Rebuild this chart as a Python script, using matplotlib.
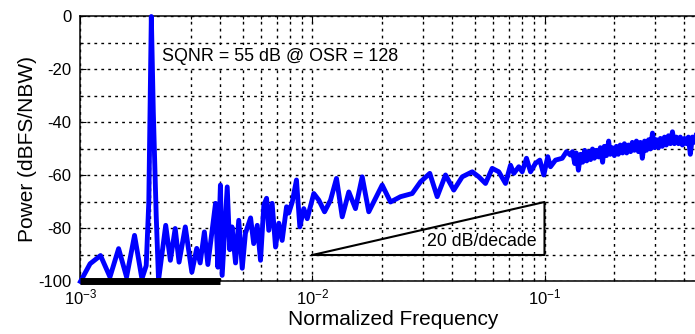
import numpy as np
import matplotlib
matplotlib.use('Agg')
import matplotlib.pyplot as plt
from matplotlib.ticker import MultipleLocator, LogLocator, NullFormatter

plt.rcParams['font.family'] = ['Liberation Sans', 'DejaVu Sans']
plt.rcParams['mathtext.fontset'] = 'custom'
plt.rcParams['mathtext.rm'] = 'Liberation Sans'
plt.rcParams['mathtext.it'] = 'Liberation Sans:italic'
plt.rcParams['axes.unicode_minus'] = False

# spectrum (normalized frequency, dBFS/NBW)
freq = [1.00e-3, 1.10e-3, 1.22e-3, 1.34e-3, 1.46e-3, 1.58e-3, 1.71e-3, 1.84e-3,
        1.92e-3, 1.97e-3, 2.02e-3, 2.06e-3, 2.12e-3, 2.17e-3, 2.33e-3, 2.44e-3,
        2.56e-3, 2.66e-3, 2.83e-3, 3.02e-3, 3.17e-3, 3.28e-3, 3.42e-3, 3.54e-3,
        3.82e-3, 3.91e-3, 4.01e-3, 4.08e-3, 4.29e-3, 4.40e-3, 4.50e-3, 4.66e-3,
        4.81e-3, 4.98e-3, 5.14e-3, 5.41e-3, 5.58e-3, 5.78e-3, 5.97e-3, 6.17e-3,
        6.34e-3, 6.48e-3, 6.70e-3, 6.93e-3, 7.16e-3, 7.40e-3, 7.73e-3, 7.90e-3,
        8.18e-3, 8.53e-3, 8.82e-3, 9.17e-3, 9.49e-3,
        1.013e-2, 1.065e-2, 1.127e-2, 1.196e-2, 1.269e-2, 1.343e-2, 1.434e-2,
        1.532e-2, 1.638e-2, 1.748e-2, 1.997e-2, 2.169e-2, 2.395e-2, 2.690e-2,
        2.921e-2, 3.203e-2, 3.447e-2, 3.744e-2, 4.065e-2, 4.419e-2, 4.880e-2,
        5.210e-2, 5.568e-2, 5.951e-2, 6.353e-2, 6.791e-2, 7.136e-2, 7.374e-2,
        7.748e-2, 8.014e-2, 8.363e-2, 8.703e-2, 9.146e-2, 9.544e-2, 9.931e-2,
        0.1033, 0.1061, 0.1115, 0.1192, 0.1244, 0.1294,
        0.132, 0.135, 0.137, 0.140, 0.143, 0.146, 0.149, 0.152, 0.155, 0.158,
        0.161, 0.164, 0.167, 0.171, 0.174, 0.178, 0.181, 0.185, 0.189, 0.192,
        0.196, 0.200, 0.204, 0.208, 0.212, 0.217, 0.221, 0.226, 0.230, 0.235,
        0.239, 0.244, 0.249, 0.254, 0.259, 0.264, 0.270, 0.275, 0.281, 0.286,
        0.292, 0.298, 0.304, 0.310, 0.316, 0.322, 0.329, 0.335, 0.342, 0.349,
        0.356, 0.363, 0.370, 0.378, 0.385, 0.393, 0.401, 0.409, 0.417, 0.425,
        0.434, 0.442, 0.451, 0.460, 0.470, 0.479, 0.489, 0.499]
power = [-100, -93.3, -90.2, -98.3, -87.6, -98.3, -82.6, -99,
         -94, -70, 0, -36, -75, -99.5, -78.8, -92,
         -80, -92.7, -79.4, -96.5, -87.5, -93, -81.3, -93.6,
         -70.5, -94.6, -63.6, -97.7, -64.3, -88, -79.4, -93,
         -76.9, -95, -81.8, -76, -85.7, -78.8, -92, -71.2,
         -68.6, -80.7, -70.5, -87, -78, -84.5, -71.8, -74.2,
         -70, -61.7, -79.4, -72.5, -76.3,
         -66.8, -69.3, -73.7, -69.3, -61.1, -75.6, -66.2,
         -72.5, -60.5, -73.7, -63.6, -70, -68, -66.8,
         -62.4, -59.2, -68, -59.8, -65.5, -60.5, -58.6,
         -60.5, -63, -57.3, -58.6, -63, -56.1, -59.2,
         -56.7, -58.6, -53.5, -58.6, -55.4, -54.2, -59.8,
         -52.9, -56.7, -54.2, -53.5, -51, -52.3,
         -51, -55.5, -51.5, -58, -52, -55, -50.5, -54.5, -51, -54,
         -50, -53.5, -50.5, -53, -49.5, -55, -49, -52.5, -47, -52,
         -49.5, -52.5, -49, -52, -48.5, -51.5, -48, -51.5, -48.5, -51,
         -47.5, -50.5, -47, -51, -47.5, -53.5, -47, -50.5, -46.5, -50,
         -44, -49.5, -46.5, -49.5, -46, -49, -45.5, -48.5, -45, -48,
         -43.5, -48, -45.5, -48, -45.5, -48.5, -46, -48, -45.5, -52,
         -45.5, -47.5, -44.5, -47.5, -45.5, -47.5, -45.5, -47]

osr_band = [1e-3, 4e-3]          # signal band marker at -100 dB
slope_f = [1e-2, 1e-1, 1e-1, 1e-2]
slope_db = [-90, -70, -90, -90]

fig = plt.figure(figsize=(6.95, 3.34), dpi=100)
ax = fig.add_axes([0.1158, 0.1572, 0.901, 0.7934])

ax.plot(freq, power, color='#0000ff', lw=3.5, solid_joinstyle='round', zorder=3, clip_on=False)
ax.plot(osr_band, [-100, -100], color='black', lw=5, solid_capstyle='butt', zorder=4, clip_on=False)
ax.plot(slope_f, slope_db, color='black', lw=1.5, zorder=4)

ax.set_xscale('log')
ax.set_xlim(1e-3, 0.5)
ax.set_ylim(-100, 0)
ax.yaxis.set_major_locator(MultipleLocator(20))
ax.yaxis.set_minor_locator(MultipleLocator(10))
ax.xaxis.set_major_locator(LogLocator(base=10, numticks=10))
ax.xaxis.set_minor_locator(LogLocator(base=10, subs=np.arange(2, 10), numticks=20))
ax.xaxis.set_minor_formatter(NullFormatter())

ax.grid(True, which='both', color='black', linestyle=(0, (2, 3)), linewidth=1.0)
ax.set_axisbelow(True)
ax.tick_params(which='both', direction='in', top=True, right=True, labelsize=12, width=0.8)
ax.tick_params(which='major', length=4)
ax.tick_params(which='minor', length=2.5)
ax.tick_params(axis='y', pad=6.5)
ax.tick_params(axis='x', pad=4)
for s in ax.spines.values():
    s.set_linewidth(1.1)

ax.set_xlabel('Normalized Frequency', fontsize=15, labelpad=2)
ax.set_ylabel('Power (dBFS/NBW)', fontsize=15, labelpad=1)

ax.text(2.25e-3, -15, 'SQNR = 55 dB @ OSR = 128', fontsize=12.9, ha='left', va='center',
        zorder=5, bbox=dict(facecolor='white', edgecolor='none', pad=2))
ax.text(3.12e-2, -85, '20 dB/decade', fontsize=12.8, ha='left', va='center',
        zorder=5, bbox=dict(facecolor='white', edgecolor='none', pad=1))

fig.savefig('out.png', dpi=100)
